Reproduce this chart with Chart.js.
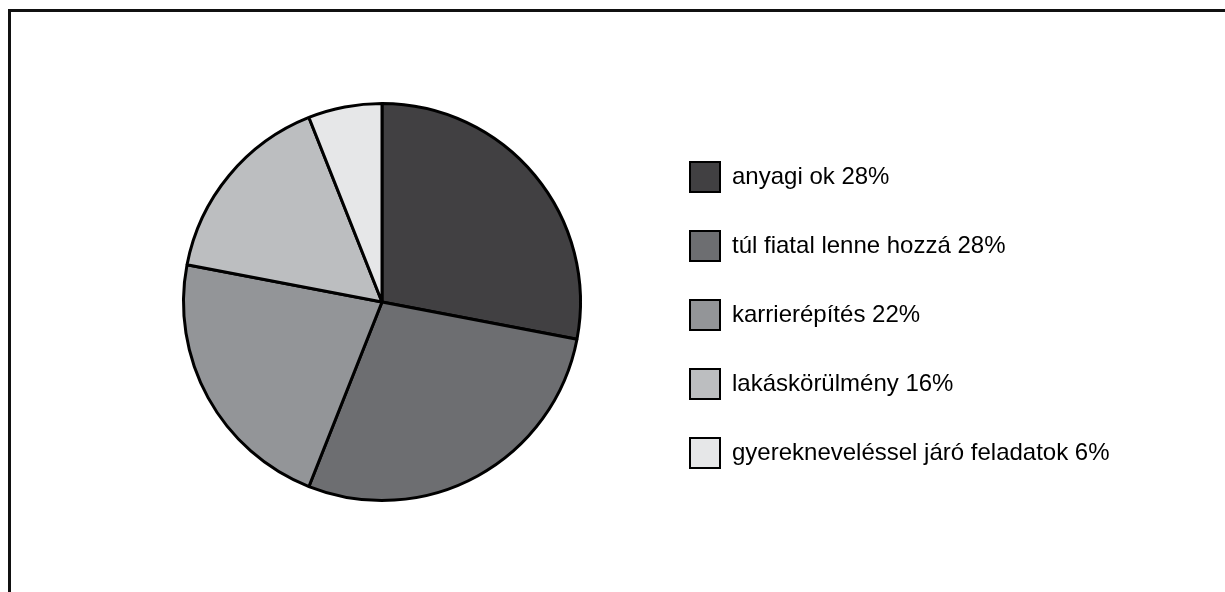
<!DOCTYPE html>
<html>
<head>
<meta charset="utf-8">
<script src="https://cdn.jsdelivr.net/npm/chart.js@4/dist/chart.umd.min.js"></script>
<style>
  html, body { margin: 0; padding: 0; background: #fff; overflow: hidden; }
  #frame {
    position: absolute; left: 8px; top: 9px;
    width: 1400px; height: 800px;
    border: 3px solid #111;
  }
  #wrap { position: absolute; left: 0; top: 0; width: 1225px; height: 592px; }
</style>
</head>
<body>
<div id="frame"></div>
<div id="wrap"><canvas id="pieChart" width="1225" height="592"></canvas></div>
<script>
// Data
const categories = ['anyagi ok', 'túl fiatal lenne hozzá', 'karrierépítés', 'lakáskörülmény', 'gyereknevelés' + 'sel járó feladatok'];
const shares = [28, 28, 22, 16, 6];
const sliceColors = ['#414042', '#6d6e71', '#939598', '#bcbec0', '#e6e7e8'];

// label text as printed in the legend
const legendLabels = categories.map((c, i) => c + ' ' + shares[i] + '%');

// move the legend box so it sits where the original one does,
// and widen it so the long labels are not clipped
const legendShift = {
  id: 'legendShift',
  afterLayout(chart) {
    const lg = chart.legend;
    if (!lg) return;
    lg.top += 13;
    lg.bottom += 13;
    lg.right = chart.width;
    lg.width = lg.right - lg.left;
  }
};

const ctx = document.getElementById('pieChart').getContext('2d');
window.pieChart = new Chart(ctx, {
  type: 'pie',
  data: {
    labels: legendLabels,
    datasets: [{
      data: shares,
      backgroundColor: sliceColors,
      borderColor: '#000',
      borderWidth: 3
    }]
  },
  options: {
    responsive: false,
    animation: false,
    events: [],
    layout: {
      padding: { left: 113, right: 274, top: 102, bottom: 90 }
    },
    plugins: {
      tooltip: { enabled: false },
      legend: {
        position: 'right',
        align: 'center',
        maxWidth: 300,
        labels: {
          boxWidth: 30,
          boxHeight: 30,
          padding: 39,
          color: '#111',
          font: { family: '"Liberation Sans", Arial, sans-serif', size: 24 },
          generateLabels(chart) {
            return chart.data.labels.map((text, i) => ({
              text: text,
              fillStyle: sliceColors[i],
              strokeStyle: '#000',
              lineWidth: 2,
              hidden: false,
              index: i
            }));
          }
        }
      }
    }
  },
  plugins: [legendShift]
});
</script>
</body>
</html>
